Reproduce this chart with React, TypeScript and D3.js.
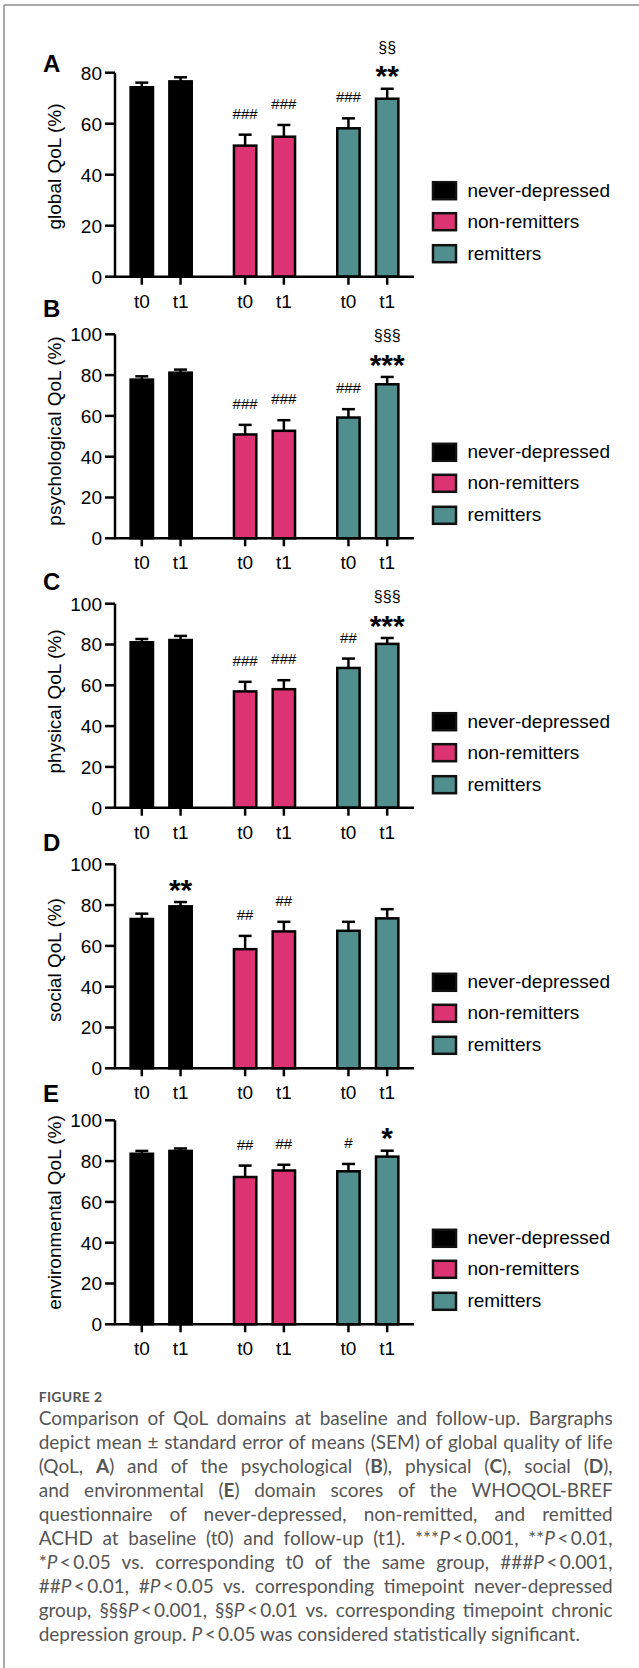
import { useEffect, useRef } from 'react';
import * as d3 from "d3";

// groups / timepoints
const groups = ["never-depressed", "non-remitters", "remitters"];
const timepoints = ["t0", "t1"];
const groupColors = ["#000000", "#dc3372", "#508f8d"];

// means and SEM per domain, order: nd t0, nd t1, nr t0, nr t1, r t0, r t1
const globalMean = [74.3, 76.6, 51.4, 54.9, 58.2, 69.8];
const globalSem = [1.8, 1.6, 4.3, 4.6, 3.9, 3.9];
const psychMean = [77.8, 81.2, 50.9, 52.7, 59.2, 75.5];
const psychSem = [1.6, 1.5, 4.7, 5.2, 4.1, 3.6];
const physMean = [81.1, 82.2, 57.0, 58.1, 68.5, 80.3];
const physSem = [1.6, 2.0, 4.7, 4.4, 4.6, 2.9];
const socialMean = [73.2, 79.4, 58.4, 67.1, 67.4, 73.5];
const socialSem = [2.6, 2.1, 6.5, 4.7, 4.4, 4.5];
const envMean = [83.6, 85.0, 72.2, 75.4, 75.0, 82.2];
const envSem = [1.4, 1.2, 5.6, 2.8, 3.6, 2.9];

// significance marks
const globalHash = ["", "", "###", "###", "###", ""];
const globalStar = ["", "", "", "", "", "**"];
const globalSect = ["", "", "", "", "", "§§"];
const psychHash = ["", "", "###", "###", "###", ""];
const psychStar = ["", "", "", "", "", "***"];
const psychSect = ["", "", "", "", "", "§§§"];
const physHash = ["", "", "###", "###", "##", ""];
const physStar = ["", "", "", "", "", "***"];
const physSect = ["", "", "", "", "", "§§§"];
const socialHash = ["", "", "##", "##", "", ""];
const socialStar = ["", "**", "", "", "", ""];
const envHash = ["", "", "##", "##", "#", ""];
const envStar = ["", "", "", "", "", "*"];
const none = ["", "", "", "", "", ""];

const panelLetters = ["A", "B", "C", "D", "E"];
const yTitles = ["global QoL (%)", "psychological QoL (%)", "physical QoL (%)", "social QoL (%)", "environmental QoL (%)"];
const yMax = [80, 100, 100, 100, 100];

const panels = [
     { mean: globalMean, sem: globalSem, hash: globalHash, star: globalStar, sect: globalSect },
     { mean: psychMean, sem: psychSem, hash: psychHash, star: psychStar, sect: psychSect },
     { mean: physMean, sem: physSem, hash: physHash, star: physStar, sect: physSect },
     { mean: socialMean, sem: socialSem, hash: socialHash, star: socialStar, sect: none },
     { mean: envMean, sem: envSem, hash: envHash, star: envStar, sect: none },
];

// layout
const W = 639, H = 1668;
const axisY = [276.7, 538.3, 807.7, 1068.3, 1324.3];
const letterY = [72, 317, 590, 851, 1102];
const titleY = [166.5, 431, 701.5, 960, 1212.5];
const PLOT_H = 204;
const X0 = 115, X1 = 414;
const FONT = '"Liberation Sans", Arial, Helvetica, sans-serif';

const captionLines: string[][][] = [
     [["Comparison of QoL domains at baseline and follow-up. Bargraphs"]],
     [["depict mean ± standard error of means (SEM) of global quality of life"]],
     [["(QoL, "], ["A", "b"], [") and of the psychological ("], ["B", "b"], ["), physical ("], ["C", "b"], ["), social ("], ["D", "b"], ["),"]],
     [["and environmental ("], ["E", "b"], [") domain scores of the WHOQOL-BREF"]],
     [["questionnaire of never-depressed, non-remitted, and remitted"]],
     [["ACHD at baseline (t0) and follow-up (t1). ***"], ["P", "i"], ["\u2009<\u20090.001, **"], ["P", "i"], ["\u2009<\u20090.01,"]],
     [["*"], ["P", "i"], ["\u2009<\u20090.05 vs. corresponding t0 of the same group, ###"], ["P", "i"], ["\u2009<\u20090.001,"]],
     [["##"], ["P", "i"], ["\u2009<\u20090.01, #"], ["P", "i"], ["\u2009<\u20090.05 vs. corresponding timepoint never-depressed"]],
     [["group, §§§"], ["P", "i"], ["\u2009<\u20090.001, §§"], ["P", "i"], ["\u2009<\u20090.01 vs. corresponding timepoint chronic"]],
     [["depression group. "], ["P", "i"], ["\u2009<\u20090.05 was considered statistically significant."]],
];
const CAP_X = 38.7, CAP_W = 574;

const xOuter = d3.scaleBand().domain(groups).range([X0, X1]).paddingInner(0.25).paddingOuter(0.072);
const xInner = d3.scaleBand().domain(timepoints).range([0, xOuter.bandwidth()]).paddingInner(0.423).paddingOuter(0.2115);

const Panel = ({ i }: { i: number }) => {
     const p = panels[i];
     const y0 = axisY[i];
     const y = d3.scaleLinear().domain([0, yMax[i]]).range([y0, y0 - PLOT_H]);
     const bw = xInner.bandwidth();
     const bars = groups.flatMap((g, gi) => timepoints.map((t, ti) => {
          const k = gi * 2 + ti;
          const left = (xOuter(g) as number) + (xInner(t) as number);
          return { k, g, gi, t, left, cx: left + bw / 2, mean: p.mean[k], sem: p.sem[k] };
     }));
     const legendRows = [-86, -55, -23];
     return (
          <g>
               <text x={43} y={letterY[i]} fontSize={24} fontWeight="bold" fontFamily={FONT}>{panelLetters[i]}</text>
               <text transform={`translate(61,${titleY[i]}) rotate(-90)`} textAnchor="middle" fontSize={19} fontFamily={FONT}>{yTitles[i]}</text>
               {bars.map(b => {
                    const top = y(b.mean);
                    const errTop = y(b.mean + b.sem);
                    return (
                         <g key={b.k}>
                              <line x1={b.cx} x2={b.cx} y1={top} y2={errTop} stroke="#000" strokeWidth={2.5} />
                              <line x1={b.cx - 6.5} x2={b.cx + 6.5} y1={errTop} y2={errTop} stroke="#000" strokeWidth={2.5} />
                              <rect x={b.left} y={top} width={bw} height={y0 - top}
                                   fill={groupColors[b.gi]} stroke="#000" strokeWidth={2.5} />
                              {p.hash[b.k] && <text x={b.cx} y={errTop - 16} textAnchor="middle" fontSize={15} fontFamily={FONT}>{p.hash[b.k]}</text>}
                              {p.star[b.k] && <text x={b.cx} y={errTop - 2.4} textAnchor="middle" fontSize={30} fontWeight="bold" fontFamily={FONT}>{p.star[b.k]}</text>}
                              {p.sect[b.k] && <text x={b.cx} y={errTop - 19 - 21.5 + 4.3} textAnchor="middle" fontSize={16} fontFamily={FONT}>{p.sect[b.k]}</text>}
                         </g>
                    )
               })}
               {/* y axis */}
               <line x1={X0} x2={X0} y1={y0 - PLOT_H} y2={y0} stroke="#000" strokeWidth={2.5} />
               {y.ticks(5).map(t => (
                    <g key={t}>
                         <line x1={X0 - 10} x2={X0} y1={y(t)} y2={y(t)} stroke="#000" strokeWidth={2.5} />
                         <text x={X0 - 13} y={y(t) + 6.8} textAnchor="end" fontSize={19} fontFamily={FONT}>{t}</text>
                    </g>
               ))}
               {/* x axis */}
               <line x1={X0 - 1.25} x2={X1} y1={y0} y2={y0} stroke="#000" strokeWidth={2.5} />
               {bars.map(b => (
                    <g key={"xt" + b.k}>
                         <line x1={b.cx} x2={b.cx} y1={y0} y2={y0 + 8} stroke="#000" strokeWidth={2.5} />
                         <text x={b.cx} y={y0 + 31} textAnchor="middle" fontSize={19} fontFamily={FONT}>{b.t}</text>
                    </g>
               ))}
               {/* legend */}
               {groups.map((g, gi) => (
                    <g key={g}>
                         <rect x={433} y={y0 + legendRows[gi] - 8.5} width={23} height={17}
                              fill={groupColors[gi]} stroke="#111" strokeWidth={2.5} />
                         <text x={467.4} y={y0 + legendRows[gi] + 6} fontSize={19} fontFamily={FONT}>{g}</text>
                    </g>
               ))}
          </g>
     )
}

export default function App() {
     const capRef = useRef<SVGGElement>(null);

     useEffect(() => {
          if (!capRef.current) return;
          d3.select(capRef.current).selectAll<SVGTextElement, unknown>("text.justify").each(function () {
               this.setAttribute("word-spacing", "0");
               const natural = this.getComputedTextLength();
               const spaces = (this.textContent || "").split(" ").length - 1;
               if (spaces > 0) this.setAttribute("word-spacing", String((CAP_W - natural) / spaces));
          });
     }, []);

     return (
          <svg width={W} height={H} style={{ position: 'absolute', left: 0, top: 0, background: '#fff' }}>
               <line x1={4} x2={W} y1={5} y2={5} stroke="#8c8c8c" strokeWidth={1.5} />
               <line x1={4} x2={4} y1={5} y2={H} stroke="#8c8c8c" strokeWidth={1.5} />
               {panels.map((_, i) => <Panel key={i} i={i} />)}
               <g ref={capRef} fontFamily="Lato, 'Open Sans', sans-serif" fill="#555">
                    <text x={CAP_X} y={1401.7} fontSize={14} fontWeight="bold" letterSpacing={0.3}>FIGURE 2</text>
                    {captionLines.map((line, li) => (
                         <text key={li} className={li < captionLines.length - 1 ? "justify" : ""}
                              x={CAP_X} y={1424.8 + li * 24.02} fontSize={19}>
                              {line.map((seg, si) => (
                                   <tspan key={si}
                                        fontWeight={seg[1] === "b" ? "bold" : undefined}
                                        fontStyle={seg[1] === "i" ? "italic" : undefined}>{seg[0]}</tspan>
                              ))}
                         </text>
                    ))}
               </g>
          </svg>
     )
}
